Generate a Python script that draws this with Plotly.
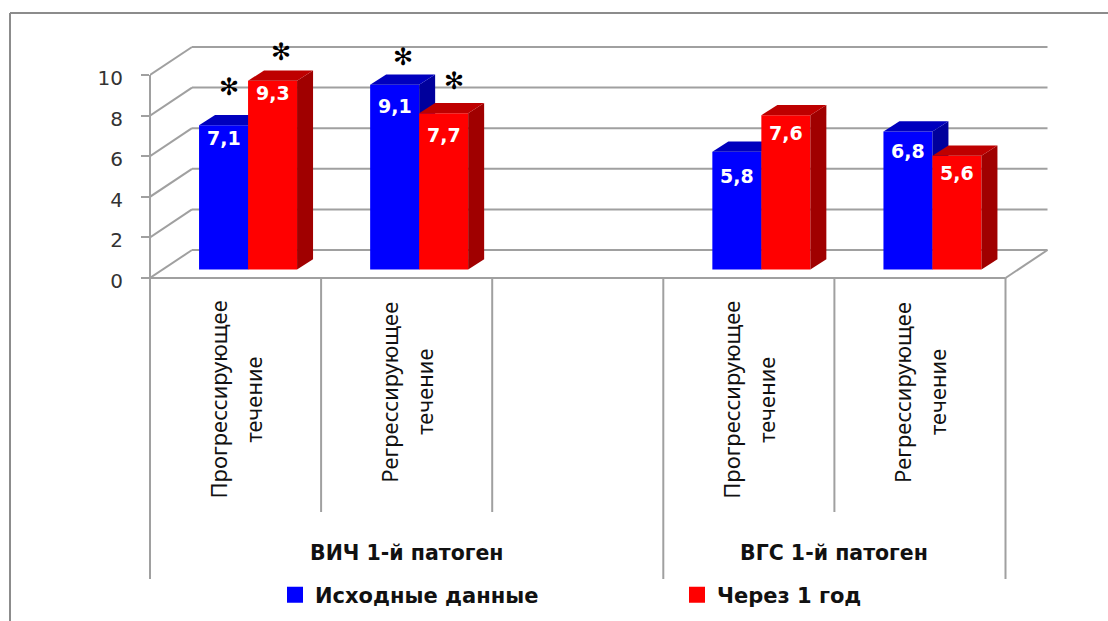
import plotly.graph_objects as go

# Chart data
categories = ["Прогрессирующее|течение", "Регрессирующее|течение", "",
              "Прогрессирующее|течение", "Регрессирующее|течение"]
groups = ["ВИЧ 1-й патоген", "ВГС 1-й патоген"]
series_names = ["Исходные данные", "Через 1 год"]
baseline = [7.1, 9.1, None, 5.8, 6.8]
after_year = [9.3, 7.7, None, 7.6, 5.6]
y_ticks = [0, 2, 4, 6, 8, 10]

# Canvas and scale
W, H = 1108, 621
LEFT = 150
X_UNIT = 171.1      # px per category slot
Y_UNIT = 20.3       # px per value unit
Y0_PX = 278         # pixel row of value 0 on the front edge
N = len(categories)

BLUE = ("#0000FF", "#0000BE", "#00009C")   # front, top, side
RED = ("#FF0000", "#BE0000", "#A00000")
GRID = "#A0A0A0"
FRAME = "#8C8C8C"
TEXT = "#111111"
FONT = "DejaVu Sans"

# 3-D look: oblique offsets in axis units
WALL_DX, WALL_DY = 42 / X_UNIT, 28 / Y_UNIT
BAR_DX, BAR_DY = 16 / X_UNIT, 10.3 / Y_UNIT
FLOOR = 8.5 / Y_UNIT
SHIFT = 12.5 / X_UNIT
BAR_W = 49 / X_UNIT

xr = [0, (W - LEFT) / X_UNIT]
yr = [(Y0_PX - H) / Y_UNIT, Y0_PX / Y_UNIT]


def line_shape(x0, y0, x1, y1, color=GRID, width=2):
    return dict(type="line", xref="x", yref="y", x0=x0, y0=y0, x1=x1, y1=y1,
                layer="below", line=dict(color=color, width=width))


def paper_x(px):
    return (px - LEFT) / (W - LEFT)


def paper_y(py):
    return (H - py) / H


def row(py):
    """Pixel row to value-axis units, for the labels below the zero line."""
    return (Y0_PX - py) / Y_UNIT


def left_edge(y0, y1):
    # paper-referenced in x so the stroke is not cut in half at the plot edge
    return dict(type="line", xref="paper", yref="y", x0=0, x1=0, y0=y0, y1=y1,
                layer="below", line=dict(color=GRID, width=2))


shapes = []
# wall gridlines and the slanted floor/side edges
for t in y_ticks:
    shapes.append(line_shape(0, t, WALL_DX, t + WALL_DY))
    shapes.append(line_shape(WALL_DX, t + WALL_DY, N + WALL_DX, t + WALL_DY))
shapes.append(left_edge(0, y_ticks[-1]))
shapes.append(line_shape(N, 0, N + WALL_DX, WALL_DY))
shapes.append(line_shape(0, 0, N, 0))

# separators of the two-level category axis
lvl1_y = row(512)
lvl2_y = row(579)
shapes.append(left_edge(0, lvl2_y))
for i in range(1, N + 1):
    shapes.append(line_shape(i, 0, i, lvl2_y if i in (3, 5) else lvl1_y))

# outer frame: top and left rules only
for x0, y0, x1, y1 in ((10, 13, W, 13), (10, 13, 10, H)):
    shapes.append(dict(type="line", xref="paper", yref="paper",
                       x0=paper_x(x0), x1=paper_x(x1), y0=paper_y(y0), y1=paper_y(y1),
                       layer="below", line=dict(color=FRAME, width=2)))

fig = go.Figure()


def add_series(values, colors, offset, xaxis, yaxis):
    """Front faces as bars, top and side faces as filled polygons."""
    xs = [i + 0.5 + SHIFT + offset for i in range(N)]
    fig.add_trace(go.Bar(x=xs, y=values, base=FLOOR, width=BAR_W,
                         marker=dict(color=colors[0], line=dict(width=0)),
                         showlegend=False, xaxis=xaxis, yaxis=yaxis))
    for x, v in zip(xs, values):
        if v is None:
            continue
        l, r = x - BAR_W / 2, x + BAR_W / 2
        top = v + FLOOR
        fig.add_trace(go.Scatter(
            x=[r, r + BAR_DX, r + BAR_DX, r, r],
            y=[FLOOR, FLOOR + BAR_DY, top + BAR_DY, top, FLOOR],
            mode="lines", fill="toself", fillcolor=colors[2], line=dict(width=0),
            hoverinfo="skip", showlegend=False, xaxis=xaxis, yaxis=yaxis))
        fig.add_trace(go.Scatter(
            x=[l, l + BAR_DX, r + BAR_DX, r, l],
            y=[top, top + BAR_DY, top + BAR_DY, top, top],
            mode="lines", fill="toself", fillcolor=colors[1], line=dict(width=0),
            hoverinfo="skip", showlegend=False, xaxis=xaxis, yaxis=yaxis))
    return xs


# the second series sits on overlaid axes so it paints over the first
xs_a = add_series(baseline, BLUE, -BAR_W / 2, "x", "y")
xs_b = add_series(after_year, RED, BAR_W / 2, "x2", "y2")

# legend entries
for name, colors in zip(series_names, (BLUE, RED)):
    fig.add_trace(go.Scatter(x=[None], y=[None], mode="markers", name=name,
                             marker=dict(symbol="square", size=16, color=colors[0])))

annotations = []


def note(x, y, text, size, color=TEXT, bold=False, angle=0, xshift=0, yshift=0, family=FONT):
    annotations.append(dict(
        x=x, y=y, xref="x", yref="y", text=f"<b>{text}</b>" if bold else text,
        showarrow=False, textangle=angle, xshift=xshift, yshift=yshift,
        font=dict(family=family, size=size, color=color)))


# value labels inside the bars
drops_a = [13, 21, 0, 24, 20]
drops_b = [12, 22, 0, 18, 17]
for xs, vals, drops in ((xs_a, baseline, drops_a), (xs_b, after_year, drops_b)):
    for x, v, d in zip(xs, vals, drops):
        if v is not None:
            note(x, v + FLOOR, f"{v:.1f}".replace(".", ","), 19, "#FFFFFF", True, yshift=-d)

# significance stars above the first cluster pair
for xs, vals, i, dx, dy in ((xs_a, baseline, 0, 5, 38), (xs_b, after_year, 0, 8, 29),
                            (xs_a, baseline, 1, 8, 28), (xs_b, after_year, 1, 10, 32)):
    note(xs[i], vals[i] + FLOOR, "✻", 24, "#000000", xshift=dx, yshift=dy)

# category labels, rotated, one annotation per line
label_rows = [400, 392, None, 400, 392]
for i, cat in enumerate(categories):
    if not cat:
        continue
    first, second = cat.split("|")
    note(i + 0.5, row(label_rows[i]), first, 22, TEXT, angle=-90, xshift=-18, family="Noto Sans")
    note(i + 0.5, row(label_rows[i]), second, 22, TEXT, angle=-90, xshift=17, family="Noto Sans")

# group labels
note(1.5, row(553), groups[0], 20.5, TEXT, True)
note(4.0, row(553), groups[1], 20.5, TEXT, True)

fig.update_layout(
    width=W, height=H,
    margin=dict(l=LEFT, r=0, t=0, b=0),
    paper_bgcolor="white", plot_bgcolor="white",
    barmode="overlay",
    shapes=shapes, annotations=annotations,
    showlegend=True,
    legend=dict(orientation="h", x=paper_x(275), xanchor="left",
                y=paper_y(595), yanchor="middle", entrywidth=357, entrywidthmode="pixels",
                font=dict(family=FONT, size=21, color=TEXT, weight="bold"),
                bgcolor="rgba(0,0,0,0)"),
    xaxis=dict(range=xr, visible=False, fixedrange=True),
    xaxis2=dict(range=xr, visible=False, overlaying="x", matches="x"),
    yaxis=dict(range=yr, tickmode="array", tickvals=y_ticks, ticktext=[str(t) for t in y_ticks],
               showgrid=False, zeroline=False, showline=False,
               ticks="outside", ticklen=8, tickwidth=2, tickcolor=GRID,
               ticklabelstandoff=14, ticklabelshift=3,
               tickfont=dict(family=FONT, size=20, color="#333333")),
    yaxis2=dict(range=yr, visible=False, overlaying="y", matches="y"),
)

fig.write_html("out.html")
